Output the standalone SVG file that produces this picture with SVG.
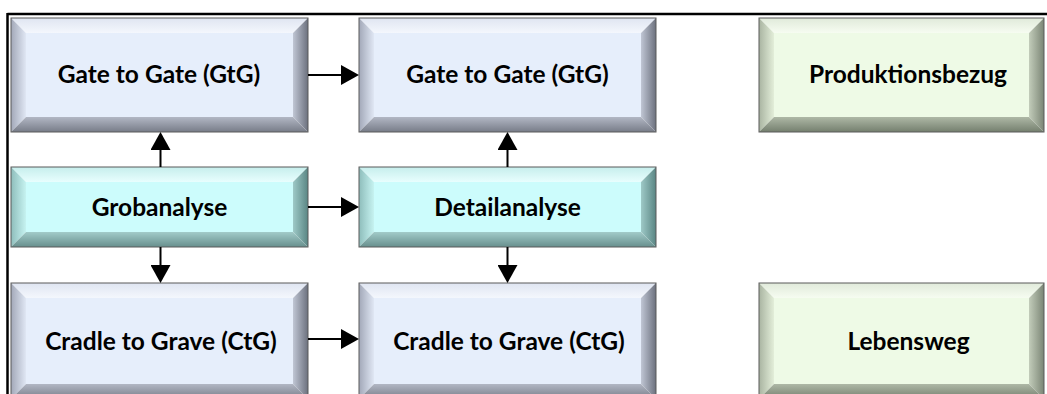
<svg xmlns="http://www.w3.org/2000/svg" width="1047" height="394" viewBox="0 0 1047 394">
<style>
  .lbl { font-family: Lato, "Open Sans", "Liberation Sans", sans-serif; font-weight: bold; font-size: 24.5px; fill: #000; text-anchor: middle; }
  .edge { fill: none; stroke: #5a5a5a; stroke-width: 1; }
  .conn { stroke: #000; stroke-width: 2; fill: none; marker-end: url(#ah); }
  .frame { stroke: #000; stroke-width: 2.5; fill: none; }
  .b-face { fill: #e6eefb; } .b-top { fill: url(#bT); } .b-left { fill: url(#bL); } .b-right { fill: url(#bR); } .b-bot { fill: url(#bB); }
  .c-face { fill: #ccfcfc; } .c-top { fill: url(#cT); } .c-left { fill: url(#cL); } .c-right { fill: url(#cR); } .c-bot { fill: url(#cB); }
  .g-face { fill: #eefae6; } .g-top { fill: url(#gT); } .g-left { fill: url(#gL); } .g-right { fill: url(#gR); } .g-bot { fill: url(#gB); }
</style>
<defs>
  <marker id="ah" viewBox="0 0 18 20" markerWidth="18" markerHeight="20" refX="9" refY="10" orient="auto" markerUnits="userSpaceOnUse">
    <path d="M0,0 L18,10 L0,20 Z" fill="#000"/>
  </marker>
  <linearGradient id="bT" x1="0" y1="0" x2="0" y2="1"><stop offset="0" stop-color="#dfe5f1"/><stop offset="1" stop-color="#f4f7fd"/></linearGradient>
  <linearGradient id="bL" x1="0" y1="0" x2="1" y2="0"><stop offset="0" stop-color="#a2a8b8"/><stop offset="1" stop-color="#e0e7f4"/></linearGradient>
  <linearGradient id="bR" x1="0" y1="0" x2="1" y2="0"><stop offset="0" stop-color="#c0c6d4"/><stop offset="1" stop-color="#6c717e"/></linearGradient>
  <linearGradient id="bB" x1="0" y1="0" x2="0" y2="1"><stop offset="0" stop-color="#b2b7c4"/><stop offset="1" stop-color="#777c88"/></linearGradient>
  <linearGradient id="cT" x1="0" y1="0" x2="0" y2="1"><stop offset="0" stop-color="#c6eeec"/><stop offset="1" stop-color="#e8fefe"/></linearGradient>
  <linearGradient id="cL" x1="0" y1="0" x2="1" y2="0"><stop offset="0" stop-color="#8ebdbb"/><stop offset="1" stop-color="#c6f3f1"/></linearGradient>
  <linearGradient id="cR" x1="0" y1="0" x2="1" y2="0"><stop offset="0" stop-color="#9ec9c7"/><stop offset="1" stop-color="#5a8684"/></linearGradient>
  <linearGradient id="cB" x1="0" y1="0" x2="0" y2="1"><stop offset="0" stop-color="#a2cbc9"/><stop offset="1" stop-color="#678f8d"/></linearGradient>
  <linearGradient id="gT" x1="0" y1="0" x2="0" y2="1"><stop offset="0" stop-color="#e0eada"/><stop offset="1" stop-color="#f6fcf1"/></linearGradient>
  <linearGradient id="gL" x1="0" y1="0" x2="1" y2="0"><stop offset="0" stop-color="#a9b4a1"/><stop offset="1" stop-color="#e3eed9"/></linearGradient>
  <linearGradient id="gR" x1="0" y1="0" x2="1" y2="0"><stop offset="0" stop-color="#c2ccba"/><stop offset="1" stop-color="#7b8575"/></linearGradient>
  <linearGradient id="gB" x1="0" y1="0" x2="0" y2="1"><stop offset="0" stop-color="#aeb8a6"/><stop offset="1" stop-color="#747f6e"/></linearGradient>
</defs>

<rect x="0" y="0" width="1047" height="394" fill="#ffffff"/>

<g id="frame">
  <line class="frame" x1="7.5" y1="14" x2="1047" y2="14"/>
  <line class="frame" x1="7.5" y1="13" x2="7.5" y2="394"/>
</g>

<g id="gtg1">
  <rect class="b-face" x="26" y="33" width="267" height="84"/>
  <polygon class="b-top" points="11,18 308,18 293,33 26,33"/>
  <polygon class="b-left" points="11,18 26,33 26,117 11,132"/>
  <polygon class="b-right" points="308,18 308,132 293,117 293,33"/>
  <polygon class="b-bot" points="11,132 26,117 293,117 308,132"/>
  <rect class="edge" x="11" y="18" width="297" height="114"/>
  <text class="lbl" x="159" y="82.5">Gate to Gate (GtG)</text>
</g>
<g id="gtg2">
  <rect class="b-face" x="374" y="33" width="267" height="84"/>
  <polygon class="b-top" points="359,18 656,18 641,33 374,33"/>
  <polygon class="b-left" points="359,18 374,33 374,117 359,132"/>
  <polygon class="b-right" points="656,18 656,132 641,117 641,33"/>
  <polygon class="b-bot" points="359,132 374,117 641,117 656,132"/>
  <rect class="edge" x="359" y="18" width="297" height="114"/>
  <text class="lbl" x="507.5" y="82.5">Gate to Gate (GtG)</text>
</g>
<g id="produktionsbezug">
  <rect class="g-face" x="774" y="33" width="255" height="84"/>
  <polygon class="g-top" points="759,18 1044,18 1029,33 774,33"/>
  <polygon class="g-left" points="759,18 774,33 774,117 759,132"/>
  <polygon class="g-right" points="1044,18 1044,132 1029,117 1029,33"/>
  <polygon class="g-bot" points="759,132 774,117 1029,117 1044,132"/>
  <rect class="edge" x="759" y="18" width="285" height="114"/>
  <text class="lbl" x="908" y="82.5">Produktionsbezug</text>
</g>

<g id="grobanalyse">
  <rect class="c-face" x="26" y="182" width="267" height="50"/>
  <polygon class="c-top" points="11,167 308,167 293,182 26,182"/>
  <polygon class="c-left" points="11,167 26,182 26,232 11,247"/>
  <polygon class="c-right" points="308,167 308,247 293,232 293,182"/>
  <polygon class="c-bot" points="11,247 26,232 293,232 308,247"/>
  <rect class="edge" x="11" y="167" width="297" height="80"/>
  <text class="lbl" x="159.5" y="215.5">Grobanalyse</text>
</g>
<g id="detailanalyse">
  <rect class="c-face" x="374" y="182" width="267" height="50"/>
  <polygon class="c-top" points="359,167 656,167 641,182 374,182"/>
  <polygon class="c-left" points="359,167 374,182 374,232 359,247"/>
  <polygon class="c-right" points="656,167 656,247 641,232 641,182"/>
  <polygon class="c-bot" points="359,247 374,232 641,232 656,247"/>
  <rect class="edge" x="359" y="167" width="297" height="80"/>
  <text class="lbl" x="507.5" y="215.5">Detailanalyse</text>
</g>

<g id="ctg1">
  <rect class="b-face" x="26" y="298" width="267" height="86"/>
  <polygon class="b-top" points="11,283 308,283 293,298 26,298"/>
  <polygon class="b-left" points="11,283 26,298 26,384 11,399"/>
  <polygon class="b-right" points="308,283 308,399 293,384 293,298"/>
  <polygon class="b-bot" points="11,399 26,384 293,384 308,399"/>
  <rect class="edge" x="11" y="283" width="297" height="116"/>
  <text class="lbl" x="161" y="350">Cradle to Grave (CtG)</text>
</g>
<g id="ctg2">
  <rect class="b-face" x="374" y="298" width="267" height="86"/>
  <polygon class="b-top" points="359,283 656,283 641,298 374,298"/>
  <polygon class="b-left" points="359,283 374,298 374,384 359,399"/>
  <polygon class="b-right" points="656,283 656,399 641,384 641,298"/>
  <polygon class="b-bot" points="359,399 374,384 641,384 656,399"/>
  <rect class="edge" x="359" y="283" width="297" height="116"/>
  <text class="lbl" x="509" y="350">Cradle to Grave (CtG)</text>
</g>
<g id="lebensweg">
  <rect class="g-face" x="774" y="298" width="255" height="86"/>
  <polygon class="g-top" points="759,283 1044,283 1029,298 774,298"/>
  <polygon class="g-left" points="759,283 774,298 774,384 759,399"/>
  <polygon class="g-right" points="1044,283 1044,399 1029,384 1029,298"/>
  <polygon class="g-bot" points="759,399 774,384 1029,384 1044,399"/>
  <rect class="edge" x="759" y="283" width="285" height="116"/>
  <text class="lbl" x="908.5" y="350">Lebensweg</text>
</g>

<g id="connectors">
  <line class="conn" x1="308" y1="75" x2="350" y2="75"/>
  <line class="conn" x1="308" y1="207" x2="350" y2="207"/>
  <line class="conn" x1="308" y1="339" x2="350" y2="339"/>
  <line class="conn" x1="160.5" y1="167" x2="160.5" y2="141"/>
  <line class="conn" x1="160.5" y1="247" x2="160.5" y2="274"/>
  <line class="conn" x1="507.5" y1="167" x2="507.5" y2="141"/>
  <line class="conn" x1="507.5" y1="247" x2="507.5" y2="274"/>
</g>
</svg>
